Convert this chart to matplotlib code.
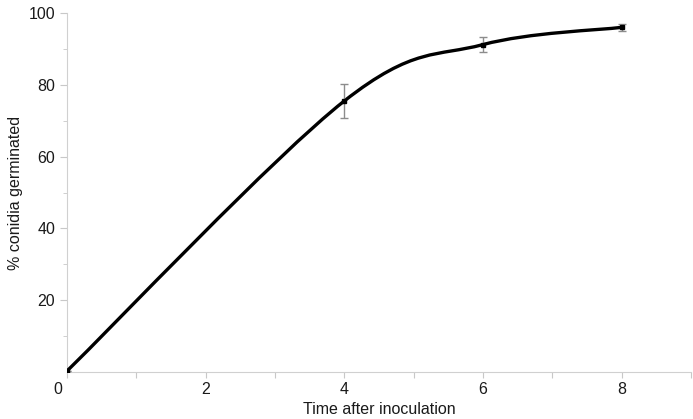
import matplotlib
matplotlib.use('Agg')
import matplotlib.pyplot as plt
import matplotlib.transforms as mtransforms
from matplotlib.path import Path
from matplotlib.patches import PathPatch
import numpy as np

plt.rcParams['font.family'] = ['Liberation Sans', 'DejaVu Sans']

# data
time = [0, 4, 6, 8]
germinated = [0.3, 75.5, 91.2, 96.0]
err = [0.0, 4.7, 2.1, 1.0]

fig = plt.figure(figsize=(6.93, 4.19), dpi=100)
ax = fig.add_axes([0.0967, 0.112, 0.9003, 0.857])

# smoothed line like the spreadsheet one (bezier through the points)
pts = np.column_stack([time, germinated])
ext = np.vstack([pts[0], pts, pts[-1]])
verts = [tuple(pts[0])]
codes = [Path.MOVETO]
for i in range(len(pts) - 1):
    p0, p1, p2, p3 = ext[i], ext[i + 1], ext[i + 2], ext[i + 3]
    c1 = p1 + (p2 - p0) / 6
    c2 = p2 - (p3 - p1) / 6
    verts += [tuple(c1), tuple(c2), tuple(p2)]
    codes += [Path.CURVE4] * 3
ax.add_patch(PathPatch(Path(verts, codes), fill=False, lw=2.4, ec='black',
                       capstyle='round', zorder=3))

ax.errorbar(time, germinated, yerr=err, fmt='s', ms=3.5, color='black',
            ecolor='#8c8c8c', elinewidth=1, capsize=3, capthick=1, zorder=4)

ax.set_xlim(0, 9)
ax.set_ylim(0, 100)
ax.set_xticks(range(0, 10))
ax.set_xticklabels(['0', '', '2', '', '4', '', '6', '', '8', ''])
ax.set_yticks([20, 40, 60, 80, 100])
ax.set_yticks([10, 30, 50, 70, 90], minor=True)

for s in ['top', 'right']:
    ax.spines[s].set_visible(False)
for s in ['left', 'bottom']:
    ax.spines[s].set_color('#d0d0d0')
ax.tick_params(axis='both', which='both', color='#c8c8c8', labelsize=11.5,
               labelcolor='#1a1a1a')
ax.tick_params(axis='x', length=4, pad=3)
ax.tick_params(axis='y', which='major', length=5)
ax.tick_params(axis='y', which='minor', length=3)

# the "0" label sits a bit left of the corner
lab0 = ax.get_xticklabels()[0]
lab0.set_transform(lab0.get_transform() +
                   mtransforms.ScaledTranslation(-9 / 100, 0, fig.dpi_scale_trans))

ax.set_xlabel('Time after inoculation', fontsize=11.5, color='#1a1a1a', labelpad=4)
ax.set_ylabel('% conidia germinated', fontsize=11.5, color='#1a1a1a', labelpad=4)

fig.savefig('out.png', dpi=100)
